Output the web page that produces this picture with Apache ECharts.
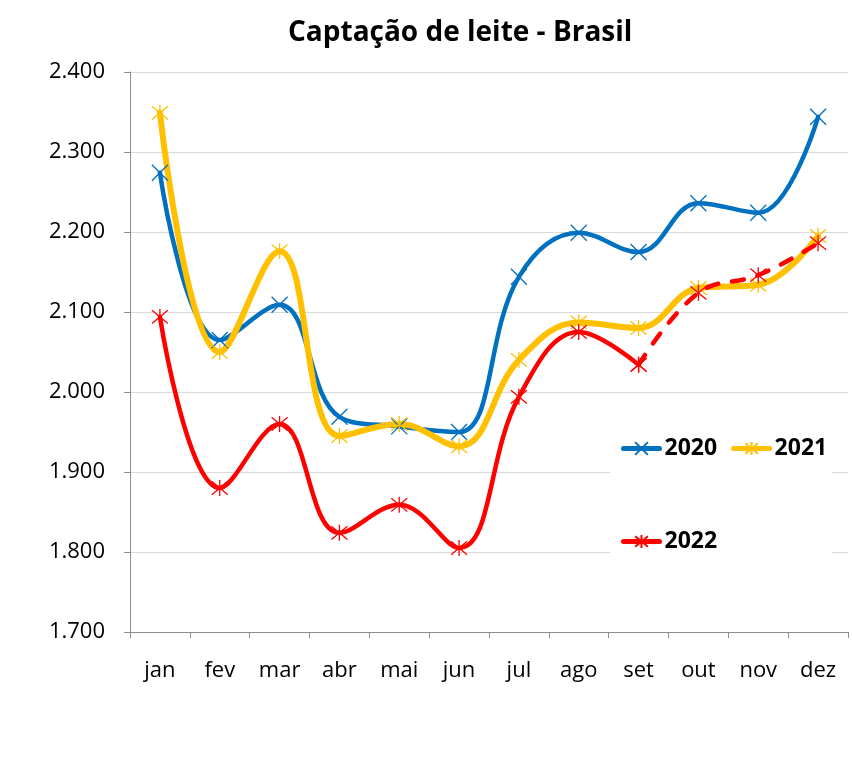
<!DOCTYPE html>
<html>
<head>
<meta charset="utf-8">
<script src="https://cdn.jsdelivr.net/npm/echarts@6/dist/echarts.min.js"></script>
<style>
  html, body { margin: 0; padding: 0; background: #fff; }
  #chart { width: 852px; height: 763px; }
</style>
</head>
<body>
<div id="chart"></div>
<script>
// categorias (meses)
const meses = ['jan', 'fev', 'mar', 'abr', 'mai', 'jun', 'jul', 'ago', 'set', 'out', 'nov', 'dez'];

// captação mensal (milhões de litros)
const dados2020 = [2274, 2065, 2109, 1969, 1957, 1950, 2144, 2199, 2175, 2236, 2224, 2344];
const dados2021 = [2349, 2050, 2176, 1945, 1960, 1932, 2040, 2087, 2080, 2130, 2134, 2195];
const dados2022 = [2094, 1880, 1960, 1824, 1859, 1805, 1994, 2075, 2034, null, null, null];
// trecho tracejado de 2022 (set a dez)
const dados2022Proj = [null, null, null, null, null, null, null, null, 2034, 2124, 2146, 2186];

// eixo y
const yMin = 1700;
const yMax = 2400;
const yPasso = 100;

// símbolos
const simboloX = 'path://M0 0L10 10M10 0L0 10';
const simboloAst = 'path://M0 0L10 10M10 0L0 10M5 -1L5 11';

const fonte = '"Open Sans", "Noto Sans", sans-serif';

function formataNumero(v) {
    const mil = Math.floor(v / 1000);
    const resto = String(v % 1000).padStart(3, '0');
    return mil + '.' + resto;
}

function serieLinha(nome, dados, cor, largura, simbolo, tipo) {
    return {
        name: nome,
        type: 'line',
        data: dados,
        smooth: 0.4,
        connectNulls: false,
        symbol: simbolo,
        symbolSize: 16,
        showSymbol: true,
        lineStyle: { color: cor, width: largura, type: tipo || 'solid', cap: 'round' },
        itemStyle: { color: 'rgba(0,0,0,0)', borderColor: cor, borderWidth: 1.3 },
        emphasis: { disabled: true }
    };
}

const chart = echarts.init(document.getElementById('chart'));

const estiloLegenda = { fontFamily: fonte, fontSize: 23, fontWeight: 'bold', color: '#000' };

chart.setOption({
    backgroundColor: '#fff',
    animation: false,
    title: {
        text: 'Captação de leite - Brasil',
        left: 283,
        top: 14,
        textStyle: { fontFamily: fonte, fontSize: 28, fontWeight: 'bold', color: '#000' }
    },
    grid: { left: 130, right: 4, top: 72, bottom: 131 },
    legend: [
        {
            data: ['2020', '2021'],
            left: 616,
            top: 432,
            itemWidth: 36,
            itemHeight: 16,
            itemGap: 14,
            lineStyle: { width: 5 },
            textStyle: estiloLegenda
        },
        {
            data: ['2022'],
            left: 616,
            top: 525,
            itemWidth: 36,
            itemHeight: 16,
            lineStyle: { width: 5 },
            textStyle: estiloLegenda
        }
    ],
    graphic: [
        {
            type: 'rect',
            left: 610,
            top: 422,
            shape: { width: 222, height: 150 },
            style: { fill: '#fff' },
            z: 1,
            silent: true
        }
    ],
    xAxis: {
        type: 'category',
        data: meses,
        boundaryGap: true,
        axisLine: { lineStyle: { color: '#8c8c8c', width: 1 } },
        axisTick: { show: true, length: 6, lineStyle: { color: '#8c8c8c' } },
        axisLabel: { margin: 28, fontFamily: fonte, fontSize: 22, color: '#000' },
        splitLine: { show: false }
    },
    yAxis: {
        type: 'value',
        min: yMin,
        max: yMax,
        interval: yPasso,
        axisLine: { show: true, lineStyle: { color: '#8c8c8c', width: 1 } },
        axisTick: { show: true, length: 6, lineStyle: { color: '#8c8c8c' } },
        axisLabel: {
            margin: 25,
            fontFamily: fonte,
            fontSize: 22,
            color: '#000',
            formatter: formataNumero
        },
        splitLine: { show: true, lineStyle: { color: '#d9d9d9', width: 1 } }
    },
    series: [
        serieLinha('2020', dados2020, '#0070c0', 4.5, simboloX),
        serieLinha('2021', dados2021, '#ffc000', 6, simboloAst),
        serieLinha('2022', dados2022, '#ff0000', 4.5, simboloAst),
        serieLinha('2022 proj', dados2022Proj, '#ff0000', 4.5, simboloAst, [12, 14])
    ]
});
</script>
</body>
</html>
